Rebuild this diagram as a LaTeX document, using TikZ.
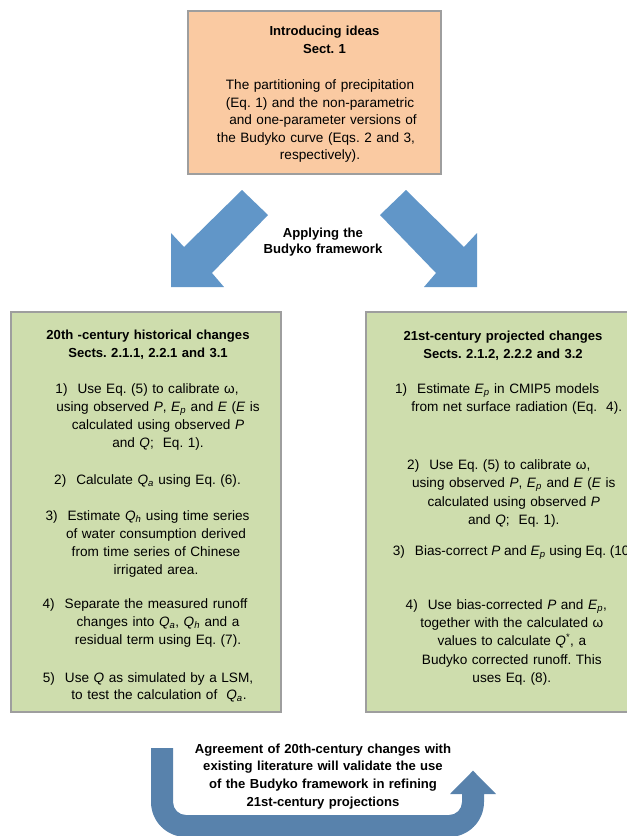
\documentclass[tikz,border=0pt]{standalone}
\usepackage{fontspec}
\setmainfont{Liberation Sans}
\frenchspacing
\definecolor{peach}{RGB}{250,202,162}
\definecolor{sage}{RGB}{206,221,173}
\definecolor{boxline}{RGB}{158,158,158}
\definecolor{blueA}{RGB}{97,150,200}
\definecolor{blueB}{RGB}{88,130,172}
\newcommand\iP{\textit{P}}
\newcommand\iE{\textit{E}}
\newcommand\iQ{\textit{Q}}
\newcommand\iEp{\textit{E}\textsubscript{\textit{p}}}
\newcommand\iQa{\textit{Q}\textsubscript{\textit{a}}}
\newcommand\iQh{\textit{Q}\textsubscript{\textit{h}}}
\newcommand\shl[1]{\makebox[#1pt]{}}
\newcommand\nsp{\hspace{10pt}}
\begin{document}
\begin{tikzpicture}[x=1pt,y=-1pt,
  panel/.style={draw=boxline, line width=1.3pt, inner sep=0pt},
  body/.style={font=\fontsize{13.6}{18.2}\selectfont, align=center, text width=270pt, inner sep=0pt, anchor=base},
  head/.style={font=\bfseries\fontsize{13.1}{17.8}\selectfont, align=center, text width=300pt, inner sep=0pt, anchor=base},
  bigarrow/.style={fill=blueA},
  uarrow/.style={fill=blueB}]
\useasboundingbox (0,0) rectangle (627,836);
\clip (0,0) rectangle (627,836);

% boxes
\node[panel, fill=peach, minimum width=253pt, minimum height=163pt] (intro) at (314.5,92.5) {};
\node[panel, fill=sage, minimum width=270pt, minimum height=400pt] (hist) at (146,512) {};
\node[panel, fill=sage, minimum width=270pt, minimum height=400pt] (proj) at (501,512) {};

% top box text
\node[head, font=\bfseries\fontsize{13.1}{17.6}\selectfont] (introt) at (324.5,35.5) {Introducing ideas\\Sect. 1};
\node[body, font=\fontsize{13.6}{17.5}\selectfont] (introb) at (320,89.5) {The partitioning of precipitation\\(Eq. 1) and the non-parametric\\\shl{6}and one-parameter versions of\\the Budyko curve (Eqs. 2 and 3,\shl{8}\\respectively).};

% diagonal arrows
\fill[bigarrow] (242,190) -- (268,215) -- (212,273) -- (224,287) -- (171,287) -- (171,233) -- (184,247) -- cycle;
\fill[bigarrow] (406,190) -- (380,215) -- (436,273) -- (424,287) -- (477,287) -- (477,233) -- (464,247) -- cycle;
\node[head, font=\bfseries\fontsize{13.1}{16.7}\selectfont] (apply) at (323,237) {Applying the\\Budyko framework};

% left box text
\node[head, font=\bfseries\fontsize{13.1}{18}\selectfont] (histt) at (148,339) {20th -century historical changes\\Sects. 2.1.1, 2.2.1 and 3.1};
\node[body, font=\fontsize{13.6}{18.3}\selectfont] (h1) at (158,393) {1)\nsp Use Eq. (5) to calibrate ω,\shl{22}\\using observed \iP, \iEp\ and \iE\ (\iE\ is\\calculated using observed \iP\\and \iQ;~~Eq. 1).};
\node[body] (h2) at (147.5,484) {2)\nsp Calculate \iQa\ using Eq. (6).};
\node[body, font=\fontsize{13.6}{17.9}\selectfont] (h3) at (156,520.5) {3)\nsp Estimate \iQh\ using time series\shl{17}\\of water consumption derived\\from time series of Chinese\\irrigated area.};
\node[body, font=\fontsize{13.6}{18}\selectfont] (h4) at (158,608.5) {4)\nsp Separate the measured runoff\shl{26}\\changes into \iQa, \iQh\ and a\\residual term using Eq. (7).};
\node[body, font=\fontsize{13.6}{17}\selectfont] (h5) at (159,682) {5)\nsp Use \iQ\ as simulated by a LSM,\shl{22}\\to test the calculation of~~\iQa.};

% right box text
\node[head, font=\bfseries\fontsize{13.1}{18.3}\selectfont] (projt) at (503,340) {21st-century projected changes\\Sects. 2.1.2, 2.2.2 and 3.2};
\node[body, font=\fontsize{13.6}{18.4}\selectfont] (p1) at (516.7,393) {1)\nsp Estimate \iEp\ in CMIP5 models\shl{39}\\from net surface radiation (Eq.~~4).};
\node[body, font=\fontsize{13.6}{18.3}\selectfont] (p2) at (513.8,469.5) {2)\nsp Use Eq. (5) to calibrate ω,\shl{30}\\using observed \iP, \iEp\ and \iE\ (\iE\ is\\calculated using observed \iP\\and \iQ;~~Eq. 1).};
\node[anchor=base west, inner sep=0pt, font=\fontsize{13.6}{18.2}\selectfont] (p3) at (392.7,555.5) {3)\nsp Bias-correct \iP\ and \iEp\ using Eq. (10).};
\node[body, font=\fontsize{13.6}{18.2}\selectfont] (p4) at (511.8,609.5) {4)\nsp Use bias-corrected \iP\ and \iEp,\shl{11}\\together with the calculated ω\\values to calculate \iQ\textsuperscript{*}, a\\Budyko corrected runoff. This\\uses Eq. (8).};

% bottom U arrow
\fill[uarrow] (151,748) -- (173,748) -- (173,802)
  .. controls (173,809.18) and (178.82,815) .. (186,815)
  -- (449,815) .. controls (456.18,815) and (462,809.18) .. (462,802)
  -- (462,794) -- (450,794) -- (473,770.7) -- (496,794) -- (484,794) -- (484,802)
  .. controls (484,821.33) and (468.33,837) .. (449,837)
  -- (186,837) .. controls (166.67,837) and (151,821.33) .. (151,802) -- cycle;
\node[head, font=\bfseries\fontsize{13.1}{17.8}\selectfont] (agree) at (323,753) {Agreement of 20th-century changes with\\existing literature will validate the use\\of the Budyko framework in refining\\21st-century projections};
\end{tikzpicture}
\end{document}
